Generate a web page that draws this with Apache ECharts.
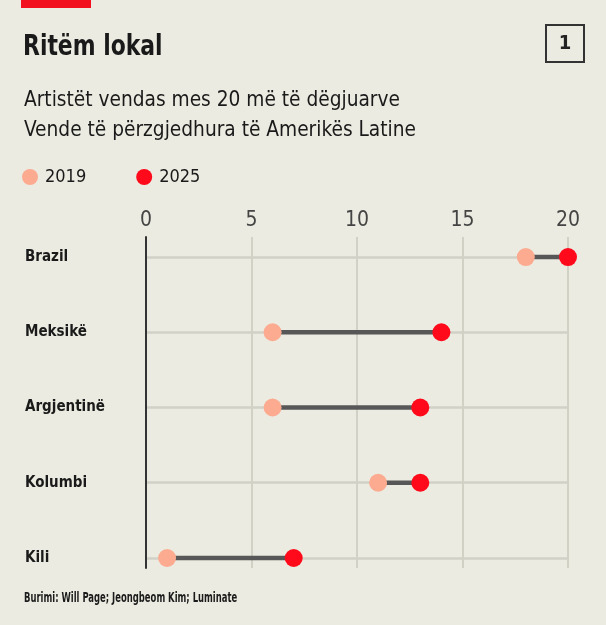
<!DOCTYPE html>
<html>
<head>
<meta charset="utf-8">
<script src="https://cdn.jsdelivr.net/npm/echarts@6/dist/echarts.min.js"></script>
<style>
  html, body { margin: 0; padding: 0; background: #ecebe1; }
  #chart { width: 606px; height: 625px; }
</style>
</head>
<body>
<div id="chart"></div>
<script>
const countries = ['Brazil', 'Meksikë', 'Argjentinë', 'Kolumbi', 'Kili'];
const values2019 = [18, 6, 6, 11, 1];
const values2025 = [20, 14, 13, 13, 7];
const xTicks = [0, 5, 10, 15, 20];

const FONT = '"Liberation Sans Narrow", "DejaVu Sans Condensed", "Roboto", sans-serif';

const chart = echarts.init(document.getElementById('chart'));

const rows = countries.map(function (name, i) {
  return [values2019[i], values2025[i], i];
});

// text blocks squeezed horizontally to mimic the condensed house font
function label(text, x, y, size, weight, sx) {
  return {
    type: 'text',
    x: x, y: y,
    scaleX: sx,
    style: {
      text: text, x: 0, y: 0,
      fontFamily: FONT, fontSize: size, fontWeight: weight,
      fill: '#1a1a1a', verticalAlign: 'middle'
    }
  };
}

const option = {
  backgroundColor: '#ecebe1',
  animation: false,
  textStyle: { fontFamily: FONT },
  graphic: [{
    type: 'rect',
    shape: { x: 21, y: 0, width: 70, height: 8 },
    style: { fill: '#f2101e' }
  }, {
    type: 'rect',
    shape: { x: 546, y: 25, width: 38, height: 37 },
    style: { fill: 'none', stroke: '#333', lineWidth: 2 }
  }, {
    type: 'text',
    x: 565, y: 44,
    style: { text: '1', fontFamily: FONT, fontSize: 20, fontWeight: 'bold', fill: '#222', align: 'center', verticalAlign: 'middle' }
  },
    label('Ritëm lokal', 23, 48, 28, 'bold', 0.87),
    label('Artistët vendas mes 20 më të dëgjuarve', 24, 100, 22, 'normal', 0.94),
    label('Vende të përzgjedhura të Amerikës Latine', 24, 130, 22, 'normal', 0.94),
    label('Burimi: Will Page; Jeongbeom Kim; Luminate', 24, 598, 14, 'bold', 0.67)
  ],
  legend: {
    left: 17,
    top: 163,
    icon: 'circle',
    itemWidth: 16,
    itemHeight: 16,
    itemGap: 50,
    data: ['2019', '2025'],
    textStyle: { fontFamily: FONT, fontSize: 18, color: '#1a1a1a', padding: [0, 0, 0, 2] },
    selectedMode: false
  },
  grid: { left: 146, right: 38, top: 237, bottom: 57 },
  xAxis: {
    type: 'value',
    position: 'top',
    min: 0,
    max: 20,
    interval: 5,
    axisLine: { show: false },
    axisTick: { show: false },
    axisLabel: {
      margin: 6,
      fontFamily: FONT,
      fontSize: 21,
      color: '#444',
      customValues: xTicks
    },
    splitLine: { show: true, lineStyle: { color: '#d2d1c6', width: 2 } }
  },
  yAxis: {
    type: 'value',
    inverse: true,
    min: -0.266,
    max: 4.133,
    minInterval: 1,
    maxInterval: 1,
    axisLine: { show: true, lineStyle: { color: '#333', width: 2 } },
    axisTick: { show: false },
    axisLabel: {
      align: 'left',
      margin: 121,
      fontFamily: FONT,
      fontSize: 15,
      fontWeight: 'bold',
      color: '#1a1a1a',
      formatter: function (v) {
        return Number.isInteger(v) && countries[v] !== undefined ? countries[v] : '';
      }
    },
    splitLine: { show: true, showMinLine: false, showMaxLine: false, lineStyle: { color: '#d2d1c6', width: 2.5 } }
  },
  series: [{
    type: 'custom',
    name: 'connector',
    silent: true,
    z: 2,
    renderItem: function (params, api) {
      const a = api.coord([api.value(0), api.value(2)]);
      const b = api.coord([api.value(1), api.value(2)]);
      return {
        type: 'line',
        shape: { x1: a[0], y1: a[1], x2: b[0], y2: b[1] },
        style: { stroke: '#575757', lineWidth: 4.5 }
      };
    },
    encode: { x: [0, 1], y: 2 },
    data: rows
  }, {
    type: 'scatter',
    name: '2019',
    z: 3,
    symbolSize: 18,
    itemStyle: { color: '#fcab91', opacity: 1 },
    data: values2019.map(function (v, i) { return [v, i]; })
  }, {
    type: 'scatter',
    name: '2025',
    z: 4,
    symbolSize: 18,
    itemStyle: { color: '#ff0a1a', opacity: 1 },
    data: values2025.map(function (v, i) { return [v, i]; })
  }]
};

chart.setOption(option);
</script>
</body>
</html>
